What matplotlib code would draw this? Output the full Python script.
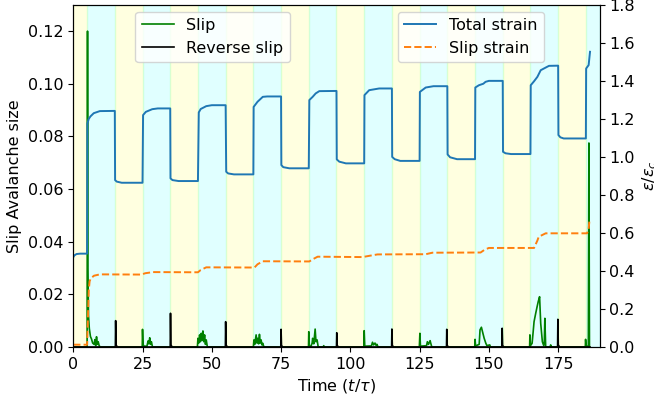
import matplotlib
matplotlib.use("Agg")
from matplotlib import pyplot as plt

# total strain (right axis)
total_t = [0, 0.4, 1.2, 2.5, 5.0,
           5.1, 5.6, 6.2, 7.4, 9.6, 15.0,
           15.1, 15.7, 17.5, 25.0,
           25.2, 26.2, 28.5, 30.5, 35.0,
           35.1, 35.8, 38.0, 45.0,
           45.3, 46.0, 48.0, 50.0, 55.0,
           55.2, 55.9, 58.0, 65.0,
           65.1, 66.5, 68.4, 70.0, 75.0,
           75.1, 75.8, 78.0, 85.0,
           85.2, 86.4, 87.5, 88.8, 95.0,
           95.1, 96.0, 98.4, 105.0,
           105.1, 106.8, 110.4, 115.0,
           115.1, 116.0, 118.0, 125.0,
           125.1, 127.2, 130.0, 135.0,
           135.1, 136.0, 138.5, 145.0,
           145.1, 146.4, 148.0, 148.8, 150.0, 155.0,
           155.1, 156.0, 158.0, 165.0,
           165.1, 166.3, 167.5, 168.7, 170.5, 171.7, 175.0,
           175.1, 175.8, 177.0, 185.0,
           185.1, 186.0, 186.5]
total_v = [0.472, 0.482, 0.489, 0.491, 0.491,
           1.176, 1.200, 1.213, 1.230, 1.241, 1.242,
           0.878, 0.870, 0.864, 0.864,
           1.220, 1.237, 1.251, 1.255, 1.255,
           0.887, 0.878, 0.873, 0.873,
           1.234, 1.252, 1.267, 1.272, 1.272,
           0.922, 0.913, 0.908, 0.908,
           1.263, 1.290, 1.316, 1.318, 1.318,
           0.957, 0.946, 0.940, 0.940,
           1.299, 1.316, 1.334, 1.346, 1.347,
           0.987, 0.975, 0.966, 0.966,
           1.325, 1.351, 1.360, 1.360,
           1.000, 0.988, 0.979, 0.979,
           1.342, 1.365, 1.372, 1.372,
           1.013, 0.998, 0.988, 0.988,
           1.365, 1.377, 1.385, 1.395, 1.400, 1.400,
           1.027, 1.019, 1.015, 1.015,
           1.377, 1.398, 1.421, 1.456, 1.470, 1.479, 1.480,
           1.115, 1.103, 1.097, 1.097,
           1.465, 1.483, 1.553]

# slip strain (right axis)
slipstr_t = [0, 5.0, 5.3, 5.6, 5.9, 6.3, 7.5, 9.6, 24.6, 26.0, 28.8, 45.0, 46.0, 48.0,
             65.4, 66.5, 68.4, 85.2, 86.5, 88.2, 104.4, 107.0, 109.8, 127.2, 129.6,
             147.0, 148.5, 150.0, 166.3, 167.5, 168.0, 170.5, 185.4, 186.0, 186.3]
slipstr_v = [0.012, 0.012, 0.15, 0.30, 0.345, 0.361, 0.375, 0.382, 0.381, 0.388, 0.394, 0.393, 0.405, 0.419,
             0.418, 0.435, 0.451, 0.450, 0.462, 0.475, 0.473, 0.480, 0.487, 0.488, 0.496,
             0.497, 0.512, 0.521, 0.521, 0.560, 0.580, 0.598, 0.598, 0.620, 0.668]

# slip avalanche size (left axis)
slip_t = [0, 5.0, 5.15, 5.3, 5.5, 5.8, 6.2, 6.6, 7.0, 7.5, 7.8, 8.1, 8.4, 8.7, 9.0, 9.4, 10.0,
          24.9, 25.0, 25.2, 25.5, 26.6, 27.0, 27.3, 27.6, 27.9, 28.2, 28.6,
          44.8, 45.0, 45.3, 45.6, 45.9, 46.2, 46.5, 46.8, 47.1, 47.4, 47.7, 48.0, 48.4,
          65.0, 65.2, 65.5, 66.0, 66.3, 66.6, 66.9, 67.2, 67.5, 67.8, 68.1, 68.4, 68.8,
          84.9, 85.0, 85.2, 85.8, 86.2, 86.4, 86.8, 87.3, 87.6, 88.0, 88.4, 90.2, 90.4, 90.6,
          104.9, 105.0, 105.2, 107.6, 108.0, 108.4, 108.9, 109.3, 109.6, 110.0,
          124.9, 125.1, 125.3, 127.5, 127.8, 128.2, 128.8, 129.0, 129.4,
          144.9, 145.0, 145.2, 146.5, 146.8, 147.3, 147.7, 148.3, 148.9, 149.3, 150.3, 150.6,
          164.7, 164.8, 165.0, 165.6, 166.0, 166.3, 166.9, 167.4, 167.8, 168.3, 168.7, 169.3,
          169.8, 170.0, 170.2, 170.5, 172.1, 172.3, 172.5,
          184.8, 184.9, 185.1, 185.9, 186.1, 186.3]
slip_v = [0, 0, 0.1200, 0.0300, 0.0120, 0.0070, 0.0040, 0.0030, 0.0015, 0.0010, 0.0028, 0.0005, 0.0039, 0.0010, 0.0020, 0.0003, 0,
          0, 0.0067, 0.0010, 0.0003, 0.0003, 0.0023, 0.0012, 0.0035, 0.0010, 0.0020, 0,
          0, 0.0033, 0.0015, 0.0046, 0.0020, 0.0052, 0.0025, 0.0061, 0.0020, 0.0046, 0.0010, 0.0027, 0,
          0, 0.0027, 0.0010, 0.0046, 0.0015, 0.0033, 0.0012, 0.0048, 0.0015, 0.0027, 0.0008, 0.0014, 0,
          0, 0.0058, 0.0004, 0.0003, 0.0014, 0.0033, 0.0012, 0.0068, 0.0020, 0.0027, 0, 0, 0.0005, 0,
          0, 0.0062, 0.0003, 0.0004, 0.0018, 0.0008, 0.0015, 0.0006, 0.0010, 0,
          0, 0.0052, 0.0003, 0.0005, 0.0020, 0.0010, 0.0024, 0.0015, 0,
          0, 0.0029, 0.0004, 0.0010, 0.0065, 0.0075, 0.0058, 0.0033, 0.0014, 0.0005, 0.0008, 0,
          0, 0.0046, 0.0005, 0.0014, 0.0060, 0.0096, 0.0128, 0.0153, 0.0172, 0.0191, 0.0090, 0.0020,
          0.0005, 0.0020, 0.0109, 0, 0, 0.0008, 0,
          0, 0.0029, 0.0003, 0.0003, 0.0775, 0]

# reverse slip (left axis)
rev_t = [0, 15.2, 15.3, 15.45, 15.9, 35.0, 35.1, 35.25, 35.7, 54.9, 55.0, 55.15, 55.6,
         74.9, 75.0, 75.15, 75.6, 95.0, 95.1, 95.25, 95.7, 114.9, 115.0, 115.15, 115.6,
         134.7, 134.8, 134.95, 135.4, 154.7, 154.8, 154.95, 155.4, 174.8, 174.9, 175.05, 175.5, 186.5]
rev_v = [0, 0, 0.0100, 0.0008, 0, 0, 0.0128, 0.0008, 0, 0, 0.0096, 0.0008, 0,
         0, 0.0067, 0.0006, 0, 0, 0.0054, 0.0006, 0, 0, 0.0068, 0.0006, 0,
         0, 0.0067, 0.0006, 0, 0, 0.0071, 0.0006, 0, 0, 0.0105, 0.0008, 0, 0]

# loading / unloading phases
phase_edges = [0, 5, 15, 25, 35, 45, 55, 65, 75, 85, 95, 105, 115, 125, 135, 145, 155, 165, 175, 185, 190]

plt.rcParams["font.size"] = 11.5

fig, ax = plt.subplots(figsize=(6.54, 4.03), dpi=100)
fig.subplots_adjust(left=0.112, right=0.917, top=0.988, bottom=0.139)

for i in range(len(phase_edges) - 1):
    c = "yellow" if i % 2 == 0 else "cyan"
    ax.axvspan(phase_edges[i], phase_edges[i + 1], color=c, alpha=0.12)

ax.plot(slip_t, slip_v, color="green", lw=1.2, label="Slip")
ax.plot(rev_t, rev_v, color="black", lw=1.2, label="Reverse slip")
ax.set_xlim(0, 190)
ax.set_ylim(0, 0.13)
ax.set_xticks([0, 25, 50, 75, 100, 125, 150, 175])
ax.set_xlabel(r"Time ($t/\tau$)")
ax.set_ylabel("Slip Avalanche size")
ax.legend(loc="upper left", bbox_to_anchor=(0.118, 0.98), borderaxespad=0)

ax2 = ax.twinx()
ax2.plot(total_t, total_v, color="tab:blue", lw=1.4, label="Total strain")
ax2.plot(slipstr_t, slipstr_v, color="tab:orange", ls="--", lw=1.4, label="Slip strain")
ax2.set_ylim(0, 1.8)
ax2.set_ylabel(r"$\varepsilon/\varepsilon_c$")
ax2.legend(loc="upper left", bbox_to_anchor=(0.617, 0.98), borderaxespad=0)

plt.savefig("out.png", dpi=100)
